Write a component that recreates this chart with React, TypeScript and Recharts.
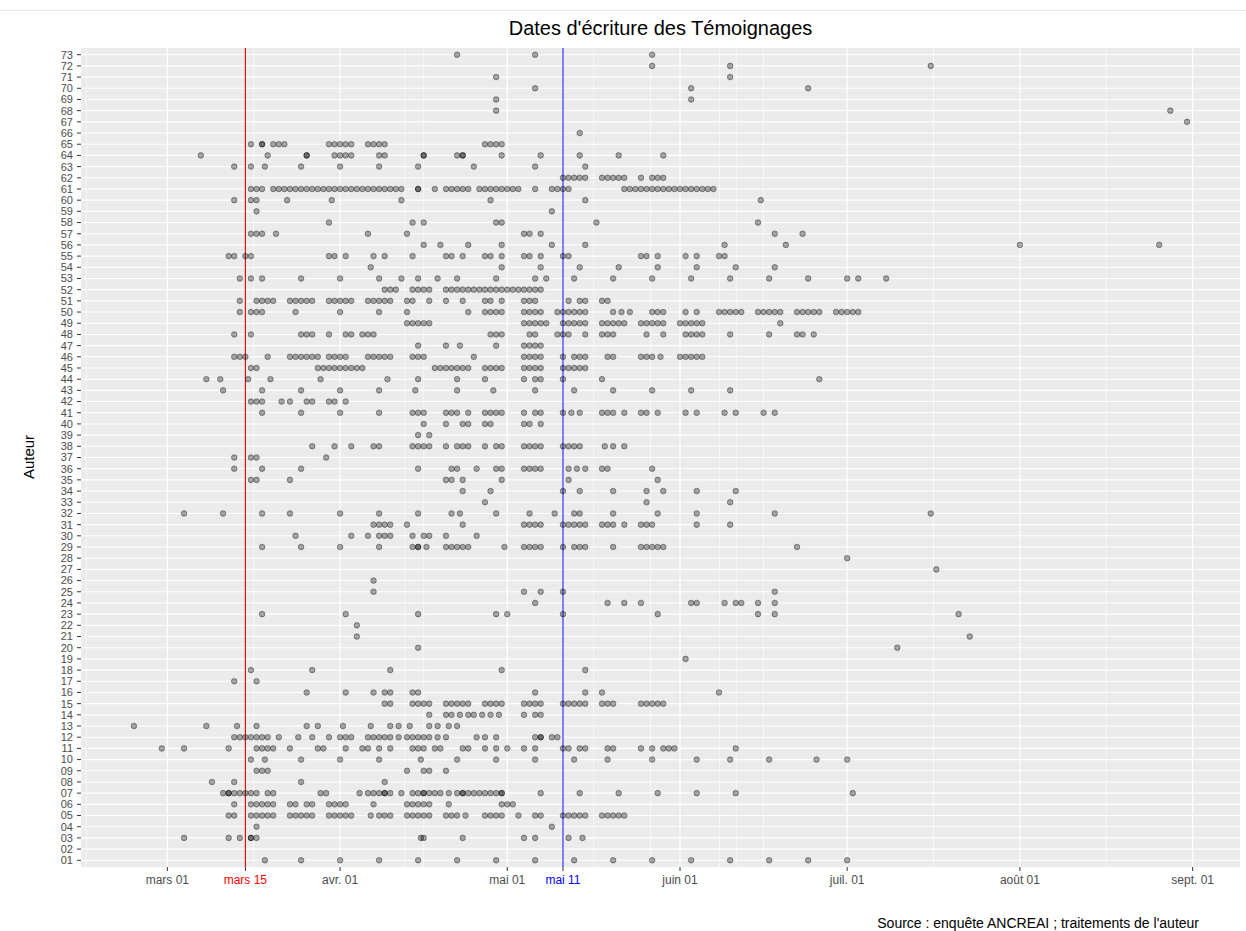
import React from "react";
import { ScatterChart, Scatter, XAxis, YAxis, CartesianGrid, ReferenceLine } from "recharts";

// Days since 1 March (0 = mars 01, 14 = mars 15, 31 = avr. 01, 61 = mai 01, 71 = mai 11 ...)
const tickDays = [0, 14, 31, 61, 71, 92, 122, 153, 184];
const tickLabels = ["mars 01", "mars 15", "avr. 01", "mai 01", "mai 11", "juin 01", "juil. 01", "août 01", "sept. 01"];
const majorGridDays = [0, 31, 61, 92, 122, 153, 184];
const minorGridDays = [-14.5, 15.5, 46, 76.5, 107, 137.5, 168.5, 42.6, 86.7, 99.1, 102.1];
const confinementDay = 14;
const deconfinementDay = 71;

// One list of writing dates per author (author 01 first)
const datesByAuthor: number[][] = [
  [17.5, 24, 31, 38, 45, 52, 59, 66, 73, 80, 87, 94, 101, 108, 115, 122],
  [],
  [3, 11, 13, 15, 15, 16, 45.5, 46, 53, 64, 66, 72, 74.5],
  [16, 69],
  [11, 12, 15, 16, 17, 18, 19, 22, 23, 24, 25, 26, 29, 30, 31, 32, 33, 36.5, 38, 39, 40, 43, 44, 45, 46, 47, 50, 51, 52, 53.5, 57, 58, 59, 60, 63, 66, 67, 71, 72, 73, 74, 75, 78, 79, 80, 81, 82],
  [12, 15, 16, 17, 18, 19, 22, 23, 25, 26, 29, 30, 31, 32, 37, 43, 44, 45, 46, 47, 50.5, 60, 61, 62],
  [10, 11, 11, 12, 13, 14, 15, 16, 18, 19, 27.5, 28.5, 34.5, 36, 37, 38, 39, 39, 40, 42, 44, 45, 46, 46, 47, 48, 49, 50.5, 52, 53, 53, 54, 55, 56, 57, 58, 59, 60, 60, 67, 74, 81, 88, 95, 102, 123],
  [8, 12, 24, 39],
  [16, 17, 18, 43, 46, 47, 50],
  [15, 17.5, 24, 31, 38, 45.5, 52, 59, 66, 73, 79, 87, 95, 101, 108, 116.5, 122],
  [-1, 3, 11, 16, 17, 18, 19, 22, 27, 28, 32, 35, 36, 38, 40, 44, 45, 46, 48, 49, 53, 54, 57, 59, 61, 64, 66, 71, 72, 74, 75, 79, 80, 85, 87, 89, 90, 91, 102],
  [12, 13, 14, 15, 16, 17, 18, 20, 23.5, 26, 29, 31, 32, 33, 36, 37, 38, 39, 40, 41.5, 43, 44, 45, 46, 47, 48.5, 50, 55.5, 57, 59, 66, 67, 67, 69, 70],
  [-6, 7, 12.5, 16, 25, 27, 31.5, 36.5, 40, 41.5, 43.5, 47, 48.5, 50.5, 52],
  [47, 50, 51, 52.5, 54, 55, 56.5, 58, 59.5, 64, 66, 67],
  [39, 40, 44, 45, 46, 47, 50, 51, 52, 53, 54, 57, 58, 59, 60, 64, 65, 66, 67, 71, 72, 73, 74, 75, 78, 79, 80, 85, 86, 87, 88, 89],
  [25, 32, 37, 39, 40, 44, 45, 66, 75, 78, 99],
  [12, 16],
  [15, 26, 40, 60, 75],
  [93],
  [45, 131],
  [34, 144],
  [34],
  [17, 32, 45, 59, 61, 71, 88, 106, 109, 142],
  [66, 79, 82, 85, 94, 95, 100, 102, 103, 106, 109],
  [37, 64, 67, 71, 109],
  [37],
  [138],
  [122],
  [17, 24, 31, 38, 44, 45, 45, 46.5, 50, 51, 52, 53, 54, 60.5, 64, 65, 66, 67, 71, 73, 74, 75, 80, 85, 86, 87, 88, 89, 113],
  [23, 33, 36, 38, 39, 40, 44, 46, 47, 50, 55.5],
  [37, 38, 39, 40, 43, 53, 64, 65, 66, 67, 71, 72, 73, 74, 75, 78, 79, 80, 82, 85, 86, 87, 95, 101],
  [3, 10, 17, 22, 31, 38, 45, 51, 52.5, 59, 65, 69.5, 73, 74, 80, 88, 95, 109, 137],
  [57, 86, 101],
  [53, 58, 71, 74, 80, 86, 89, 95, 102],
  [15, 16, 22, 50, 51, 53, 60, 72, 88],
  [12, 17, 24, 45, 51, 52, 55.5, 59, 60, 64, 65, 66, 67, 72, 73.5, 75, 78, 79, 87],
  [12, 15, 16, 28.5],
  [26, 30, 33, 37, 38, 44, 45, 46, 47, 50, 52, 53, 54, 57, 59, 60, 64, 65, 66, 67, 71, 72, 73, 74, 78.5, 80, 82],
  [45, 47],
  [46, 50, 53, 54, 57, 58, 64, 65, 67],
  [17, 24, 31, 38, 44, 45, 46, 50, 51, 52, 54, 57, 58, 59, 60, 64, 66, 67, 71, 72.5, 74, 78, 79, 80, 82, 85, 86, 88, 93, 95, 100, 102, 107, 109],
  [15, 16, 17, 20.5, 22, 25, 26, 29, 30, 32],
  [10, 17, 24, 31, 38, 44.5, 52, 58.5, 66, 73, 80, 87, 94, 101],
  [7, 9.5, 14.5, 18.5, 27.5, 39.5, 45, 52, 57, 64, 66, 67, 71, 78, 117],
  [15, 16, 27, 28, 29, 30, 31, 32, 33, 34, 35, 48, 49, 50, 51, 52, 53, 54, 57, 58, 59, 60, 64, 65, 66, 67, 71, 72, 73, 74, 75],
  [12, 13, 14, 18, 22, 23, 24, 25, 26, 27, 29, 30, 31, 32, 36, 37, 38, 39, 40, 44, 45, 46, 55, 64, 65, 66, 67, 71, 73, 74, 75, 79, 80, 85, 86, 87, 88.5, 92, 93, 94, 95, 96],
  [45, 50, 52.5, 59, 64, 65, 66, 67],
  [12, 15, 24, 25, 26, 29, 32, 33, 35, 36, 37, 58, 59, 60, 65, 66, 70, 71, 72, 75, 78, 79, 80, 86, 89, 93, 94, 95, 96, 101, 108, 113, 114, 116],
  [43, 44, 45, 46, 47, 64, 65, 66, 67, 68, 71, 72, 73, 74, 75, 78, 79, 80, 81, 82, 85, 86, 87, 88, 89, 92, 93, 94, 95, 96, 110],
  [13, 15, 16, 17, 23, 31, 38, 43, 54, 57, 58, 59, 60, 64, 65, 66, 67, 70, 71, 72, 73, 74, 75, 80, 81.5, 83, 87, 88, 89, 93, 95, 99, 100, 101, 102, 103, 106, 107, 108, 109, 110, 113, 114, 115, 116, 117, 120, 121, 122, 123, 124],
  [13, 16, 17, 18, 19, 22, 23, 24, 25, 26, 29, 30, 31, 32, 33, 36, 37, 38, 39, 40, 43, 44, 47, 50, 53, 57, 58, 60, 64, 65, 66, 72, 74, 75, 78, 79],
  [39, 40, 41, 44, 45, 46, 47, 50, 51, 52, 53, 54, 55, 56, 57, 58, 59, 60, 61, 62, 63, 64, 65, 66, 67],
  [13, 15, 17, 24, 31, 38, 42, 45, 48.5, 52, 59, 66, 68, 73, 80, 87, 94, 101, 108, 115, 122, 124, 129],
  [36.5, 60, 67, 74, 81, 88, 95, 102, 109],
  [11, 12, 14, 15, 29, 30, 32, 37, 39, 44, 50, 51, 53, 57, 58, 60, 64, 65, 67, 71, 72, 85, 86, 88, 93, 95, 99, 100],
  [46, 49, 54, 60, 69, 75, 100, 111, 153, 178],
  [15, 16, 17, 19.5, 36, 43, 64, 65, 67, 109, 114],
  [29, 44, 46, 59, 60, 77, 106],
  [16, 69],
  [12, 15, 16, 21.5, 29.5, 42, 58, 75, 106.5],
  [15, 16, 17, 19, 20, 21, 22, 23, 24, 25, 26, 27, 28, 29, 30, 31, 32, 33, 34, 35, 36, 37, 38, 39, 40, 41, 42, 45, 45, 48, 50, 51, 52, 53, 54, 56, 57, 58, 59, 60, 61, 62, 63, 66, 69, 70, 71, 72, 82, 83, 84, 85, 86, 87, 88, 89, 90, 91, 92, 93, 94, 95, 96, 97, 98],
  [71, 72, 73, 74, 75, 78, 79, 80, 81, 82, 85, 87, 88, 89],
  [12, 15, 17.5, 24, 31, 38, 45, 55, 66, 75],
  [6, 18, 25, 25, 30, 31, 32, 33, 38, 39, 46, 46, 52, 53, 53, 60, 67, 74, 81, 89],
  [15, 17, 17, 19, 20, 21, 29, 30, 31, 32, 33, 36, 37, 38, 39, 57, 58, 59, 60],
  [74],
  [183],
  [59, 180],
  [59, 94],
  [66, 94, 115],
  [59, 101],
  [87, 101, 137],
  [52, 66, 87],
];

const authorTicks = datesByAuthor.map((_, i) => i + 1);
const points = datesByAuthor.flatMap((days, i) => days.map((d) => ({ day: d, author: i + 1 })));

const FONT = "'Liberation Sans', Arial, sans-serif";

const Dot = (p: any) => (
  <circle cx={p.cx} cy={p.cy} r={2.8} fill="#000" fillOpacity={0.33} stroke="#000" strokeOpacity={0.45} strokeWidth={0.8} />
);

const XTick = (p: any) => {
  const v = p.payload.value;
  const idx = tickDays.indexOf(v);
  const color = v === confinementDay ? "#FF0000" : v === deconfinementDay ? "#0000FF" : "#4D4D4D";
  return (
    <text x={p.x} y={p.y} dy={11} textAnchor="middle" fill={color} fontSize={12} fontFamily={FONT}>
      {tickLabels[idx]}
    </text>
  );
};

export default function App() {
  return (
    <div style={{ position: "absolute", left: 0, top: 0, width: 1246, height: 931, background: "#fff", fontFamily: FONT }}>
      <div style={{ position: "absolute", left: 0, top: 10, width: 1246, height: 0, borderTop: "1px solid #e6e6e6" }} />
      <ScatterChart width={1246} height={931} margin={{ top: 48, right: 6, bottom: 34, left: 41 }}>
        <CartesianGrid fill="#EBEBEB" stroke="#FFFFFF" strokeWidth={1.1} vertical={false} horizontalValues={authorTicks} />
        {minorGridDays.map((d) => (
          <ReferenceLine key={"mi" + d} x={d} stroke="#FFFFFF" strokeWidth={0.6} />
        ))}
        {majorGridDays.map((d) => (
          <ReferenceLine key={"ma" + d} x={d} stroke="#FFFFFF" strokeWidth={1.2} />
        ))}
        <XAxis
          type="number"
          dataKey="day"
          domain={[-15.5, 192.5]}
          ticks={tickDays}
          interval={0}
          allowDataOverflow
          height={30}
          axisLine={false}
          tickSize={4}
          tickLine={{ stroke: "#333333" }}
          tick={<XTick />}
        />
        <YAxis
          type="number"
          dataKey="author"
          domain={[0.4, 73.6]}
          ticks={authorTicks}
          interval={0}
          allowDataOverflow
          width={40}
          axisLine={false}
          tickSize={4}
          tickMargin={4}
          tickLine={{ stroke: "#333333" }}
          tick={{ fill: "#4D4D4D", fontSize: 11, fontFamily: FONT }}
          tickFormatter={(v: number) => String(v).padStart(2, "0")}
        />
        <Scatter data={points} shape={<Dot />} isAnimationActive={false} />
        <ReferenceLine x={confinementDay} stroke="#E00000" strokeWidth={1.1} />
        <ReferenceLine x={deconfinementDay} stroke="#5A5AFF" strokeWidth={1.5} />
      </ScatterChart>
      <div style={{ position: "absolute", left: 81, width: 1159, top: 17, textAlign: "center", fontSize: 20, color: "#000" }}>
        Dates d'écriture des Témoignages
      </div>
      <div
        style={{
          position: "absolute",
          left: 28,
          top: 457,
          transform: "translate(-50%, -50%) rotate(-90deg)",
          fontSize: 15,
          color: "#000",
          whiteSpace: "nowrap",
        }}
      >
        Auteur
      </div>
      <div style={{ position: "absolute", right: 47, top: 915, fontSize: 14, color: "#000", whiteSpace: "nowrap" }}>
        Source : enquête ANCREAI ; traitements de l'auteur
      </div>
    </div>
  );
}
